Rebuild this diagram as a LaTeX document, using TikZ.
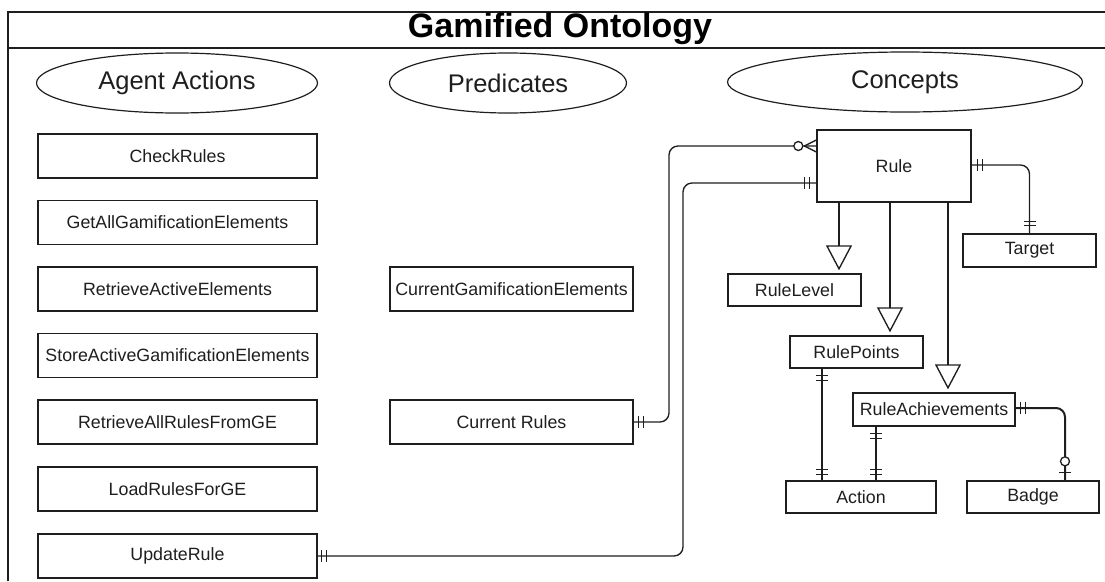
\documentclass[tikz,border=0pt]{standalone}
\usepackage{fontspec}
\setmainfont{Liberation Sans}
\usetikzlibrary{arrows.meta,shapes.geometric,calc}
\definecolor{ink}{HTML}{1E1E1E}
% bar across a horizontal line / across a vertical line
\newcommand\mkvtick[2]{\draw[tick] ($(#1)+(#2)+(0,-6)$) -- ++(0,12);}
\newcommand\mkhtick[2]{\draw[tick] ($(#1)+(#2)+(-6,0)$) -- ++(12,0);}
\begin{document}
\begin{tikzpicture}[x=1pt,y=-1pt,
  box/.style={draw=ink, line width=1.35pt, rectangle, inner sep=0pt,
    text=ink, font=\fontsize{17.8}{20}\selectfont},
  head/.style={draw=ink, line width=1.2pt, ellipse, inner sep=0pt,
    text=ink, font=\fontsize{25.5}{28}\selectfont},
  conn/.style={draw=ink, line width=1.35pt, rounded corners=9pt},
  isa/.style={draw=ink, line width=1.35pt,
    -{Triangle[open, length=25pt, width=26pt]}, shorten >=3pt},
  tick/.style={draw=ink, line width=1.3pt},
]
\useasboundingbox (0,0) rectangle (1105,581);

% frame and title bar
\draw[ink, line width=1.35pt] (8,581) -- (8,12) -- (1105,12);
\draw[ink, line width=1.35pt] (8,48) -- (1105,48);
\node[anchor=base, text=black, font=\bfseries\fontsize{34}{36}\selectfont] (title) at (560,37.5) {Gamified Ontology};

% column headings
\node[head, minimum width=281pt, minimum height=60pt] (hagent) at (177,83) {Agent Actions};
\node[head, minimum width=237pt, minimum height=60pt] (hpred) at (508,83) {Predicates};
\node[head, minimum width=355pt, minimum height=60pt] (hconc) at (905,82) {Concepts};

% agent actions
\tikzset{actbox/.style={box, minimum width=279pt, minimum height=44pt}}
\node[actbox] (check) at (177.5,156) {CheckRules};
\node[actbox] (getall) at (177.5,222.5) {GetAllGamificationElements};
\node[actbox] (retract) at (177.5,289) {RetrieveActiveElements};
\node[actbox] (store) at (177.5,355.5) {StoreActiveGamificationElements};
\node[actbox] (retall) at (177.5,422) {RetrieveAllRulesFromGE};
\node[actbox] (load) at (177.5,489) {LoadRulesForGE};
\node[actbox] (upd) at (177.5,556) {UpdateRule};

% predicates
\tikzset{predbox/.style={box, minimum width=243pt, minimum height=44pt}}
\node[predbox] (cge) at (511.5,289) {CurrentGamificationElements};
\node[predbox] (cr) at (511.5,422) {Current Rules};

% concepts
\node[box, minimum width=154pt, minimum height=72pt] (rule) at (894,166) {Rule};
\node[box, minimum width=133pt, minimum height=33pt] (tgt) at (1029.5,250.5) {Target};
\node[box, minimum width=133pt, minimum height=32pt] (rl) at (794.5,290) {RuleLevel};
\node[box, minimum width=133pt, minimum height=32pt] (rp) at (856.5,352) {RulePoints};
\node[box, minimum width=162pt, minimum height=33pt] (ra) at (934,409.5) {RuleAchievements};
\node[box, minimum width=150pt, minimum height=32pt] (act) at (861,497) {Action};
\node[box, minimum width=132pt, minimum height=32pt] (bdg) at (1033,497) {Badge};

% Current Rules -- Rule (one to zero-or-many)
\coordinate (rz) at ([yshift=20pt]rule.west);
\draw[conn] (cr.east) -| (669,146) -- (rz);
\mkvtick{cr.east}{5,0}
\mkvtick{cr.east}{10,0}
\draw[tick] ($(rz)+(-12,0)$) -- ($(rz)+(0,-6)$);
\draw[tick] ($(rz)+(-12,0)$) -- ($(rz)+(0,6)$);
\draw[tick, fill=white] ($(rz)+(-18,0)$) circle[radius=4.5pt];

% UpdateRule -- Rule (one to one)
\coordinate (ro) at ([yshift=-17pt]rule.west);
\draw[conn] (upd.east) -| (683,183) -- (ro);
\mkvtick{upd.east}{4,0}
\mkvtick{upd.east}{9,0}
\mkvtick{ro}{-12,0}
\mkvtick{ro}{-7,0}

% Rule -- Target (one to one)
\coordinate (rt) at ([yshift=1pt]rule.east);
\draw[conn] (rt) -| (tgt.north);
\mkvtick{rt}{6,0}
\mkvtick{rt}{11,0}
\mkhtick{tgt.north}{0,-12}
\mkhtick{tgt.north}{0,-8}

% specialisations of Rule
\draw[isa] ([xshift=-55pt]rule.south) -- ([xshift=-55pt]rule.south |- rl.north);
\draw[isa] ([xshift=-4pt]rule.south) -- ([xshift=-4pt]rule.south |- rp.north);
\draw[isa] ([xshift=54pt]rule.south) -- ([xshift=54pt]rule.south |- ra.north);

% RulePoints -- Action
\coordinate (pa) at ([xshift=-34.5pt]rp.south);
\draw[conn] (pa) -- (pa |- act.north);
\mkhtick{pa}{0,7}
\mkhtick{pa}{0,12}
\mkhtick{pa |- act.north}{0,-11}
\mkhtick{pa |- act.north}{0,-6}

% RuleAchievements -- Action
\coordinate (aa) at ([xshift=-58pt]ra.south);
\draw[conn] (aa) -- (aa |- act.north);
\mkhtick{aa}{0,7}
\mkhtick{aa}{0,12}
\mkhtick{aa |- act.north}{0,-11}
\mkhtick{aa |- act.north}{0,-6}

% RuleAchievements -- Badge (one to zero-or-one)
\coordinate (ab) at ([yshift=1.5pt]ra.east);
\coordinate (bt) at ([xshift=32pt]bdg.north);
\draw[conn, line width=2pt] (ab) -| (bt);
\mkvtick{ab}{5,0}
\mkvtick{ab}{10,0}
\mkhtick{bt}{0,-8}
\draw[tick, fill=white] ($(bt)+(0,-19)$) circle[radius=4.5pt];

\end{tikzpicture}
\end{document}
